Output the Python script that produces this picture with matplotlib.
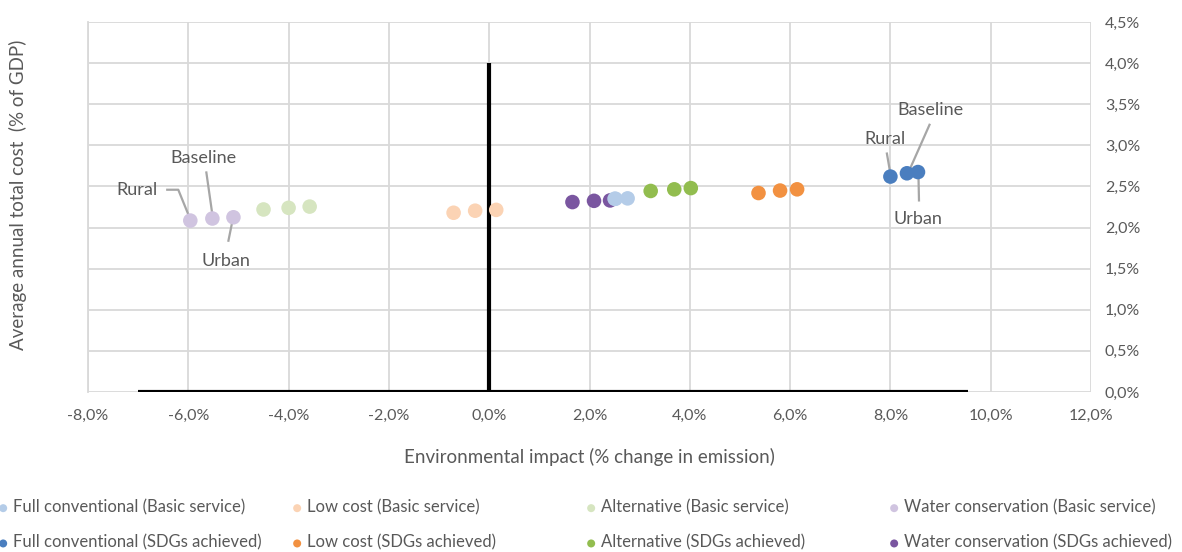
import matplotlib
matplotlib.use("Agg")
import matplotlib.pyplot as plt
from matplotlib.ticker import FuncFormatter

plt.rcParams['font.family'] = ['Lato', 'DejaVu Sans']

# Scenario order within each series: Rural, Baseline, Urban
series_names = [
    "Full conventional (Basic service)", "Low cost (Basic service)",
    "Alternative (Basic service)", "Water conservation (Basic service)",
    "Full conventional (SDGs achieved)", "Low cost (SDGs achieved)",
    "Alternative (SDGs achieved)", "Water conservation (SDGs achieved)",
]
series_colors = ["#b4cce8", "#fbd3b4", "#d6e5c0", "#d0c4e0",
                 "#4a7ebf", "#f29141", "#92bd4f", "#7a56a0"]

# Environmental impact (% change in emission)
full_basic_x = [2.50, 2.52, 2.76]
low_basic_x = [-0.71, -0.28, 0.14]
alt_basic_x = [-4.50, -4.00, -3.58]
water_basic_x = [-5.96, -5.52, -5.10]
full_sdg_x = [8.00, 8.33, 8.55]
low_sdg_x = [5.37, 5.80, 6.14]
alt_sdg_x = [3.22, 3.69, 4.02]
water_sdg_x = [1.66, 2.09, 2.41]

# Average annual total cost (% of GDP)
full_basic_y = [2.35, 2.35, 2.355]
low_basic_y = [2.18, 2.205, 2.215]
alt_basic_y = [2.22, 2.24, 2.255]
water_basic_y = [2.085, 2.11, 2.125]
full_sdg_y = [2.62, 2.66, 2.675]
low_sdg_y = [2.42, 2.45, 2.465]
alt_sdg_y = [2.445, 2.465, 2.48]
water_sdg_y = [2.31, 2.325, 2.33]

series_x = [full_basic_x, low_basic_x, alt_basic_x, water_basic_x,
            full_sdg_x, low_sdg_x, alt_sdg_x, water_sdg_x]
series_y = [full_basic_y, low_basic_y, alt_basic_y, water_basic_y,
            full_sdg_y, low_sdg_y, alt_sdg_y, water_sdg_y]

x_ticks = [-8, -6, -4, -2, 0, 2, 4, 6, 8, 10, 12]
y_ticks = [0, 0.5, 1.0, 1.5, 2.0, 2.5, 3.0, 3.5, 4.0, 4.5]

W, H = 1182, 552
fig = plt.figure(figsize=(W / 100, H / 100), dpi=100)
ax = fig.add_axes([88 / W, 1 - 392 / H, (1091 - 88) / W, (392 - 22) / H])

ax.set_xlim(-8, 12)
ax.set_ylim(0, 4.5)
ax.set_xticks(x_ticks)
ax.set_yticks(y_ticks)
ax.grid(True, color="#d9d9d9", linewidth=1.3)
ax.set_axisbelow(True)
for s in ax.spines.values():
    s.set_visible(False)
ax.spines['left'].set_visible(True)
ax.spines['left'].set_color("#d9d9d9")
ax.spines['left'].set_linewidth(1.3)

pct = FuncFormatter(lambda v, p: f"{v:.1f}%".replace(".", ","))
ax.xaxis.set_major_formatter(pct)
ax.yaxis.set_major_formatter(pct)
ax.yaxis.tick_right()
ax.tick_params(axis='both', length=0, labelsize=11.5, labelcolor="#595959")
ax.tick_params(axis='x', pad=12)
ax.tick_params(axis='y', pad=10)

# Reference axes drawn in black
ax.plot([-7, 9.55], [0, 0], color="black", linewidth=3, zorder=3, solid_capstyle='butt')
ax.plot([0, 0], [0, 4.0], color="black", linewidth=3, zorder=3, solid_capstyle='butt')

draw_order = [1, 2, 3, 4, 5, 6, 7, 0]
handles = {}
for i in draw_order:
    h = ax.scatter(series_x[i], series_y[i], s=110, color=series_colors[i],
                   edgecolors='none', zorder=5 + draw_order.index(i),
                   label=series_names[i])
    handles[i] = h

ax.set_xlabel("Environmental impact (% change in emission)", fontsize=13.5,
              color="#595959", labelpad=18)
fig.text(18 / W, 1 - 195 / H, "Average annual total cost  (% of GDP)",
         rotation=90, fontsize=13.5, color="#595959", ha='center', va='center')

# Scenario annotations with leader lines
lab = dict(fontsize=13, color="#595959", ha='center', va='center')
line = dict(color="#a6a6a6", linewidth=1.6, zorder=4)


def label(text, tx, ty, path):
    ax.text(tx, ty, text, **lab)
    ax.plot([p[0] for p in path], [p[1] for p in path], **line)


label("Baseline", -5.70, 2.84, [(-5.64, 2.67), (-5.53, 2.20)])
label("Rural", -7.02, 2.46, [(-6.42, 2.46), (-6.20, 2.46), (-6.00, 2.16)])
label("Urban", -5.25, 1.59, [(-5.20, 1.84), (-5.13, 2.05)])
label("Baseline", 8.80, 3.43, [(8.78, 3.25), (8.38, 2.70)])
label("Rural", 7.90, 3.08, [(7.93, 2.90), (7.99, 2.69)])
label("Urban", 8.55, 2.11, [(8.57, 2.33), (8.56, 2.62)])

# Legend: four equal-width columns, Basic service above SDGs achieved
col_left = [-16, 278, 572, 875]
for c in range(4):
    pair = [c, c + 4]
    fig.legend([handles[i] for i in pair], [series_names[i] for i in pair],
               loc='lower left', bbox_to_anchor=(col_left[c] / W, -8 / H),
               frameon=False, fontsize=12, markerscale=0.55,
               handletextpad=0.0, handlelength=1.2, labelspacing=1.15,
               labelcolor="#595959", borderaxespad=0.15)

fig.savefig("out.png", dpi=100)
